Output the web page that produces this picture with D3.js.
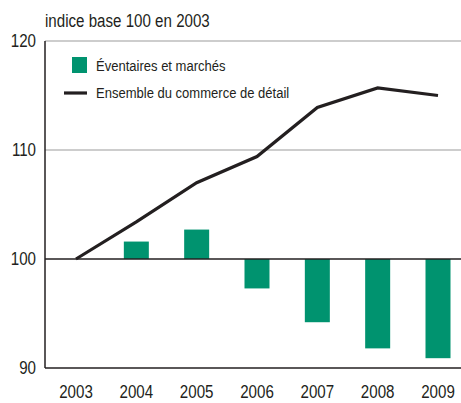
<!DOCTYPE html>
<html>
<head>
<meta charset="utf-8">
<script src="https://d3js.org/d3.v7.min.js"></script>
<style>
  body { margin: 0; background: #fff; }
  svg text { font-family: "Liberation Sans", Arial, sans-serif; fill: #231f20; }
</style>
</head>
<body>
<script>
// data
var years = ["2003", "2004", "2005", "2006", "2007", "2008", "2009"];
var eventaires = [100, 101.6, 102.7, 97.3, 94.2, 91.8, 90.9];
var ensemble = [100, 103.4, 107.0, 109.4, 113.9, 115.7, 115.0];
var yTicks = [90, 100, 110, 120];

var width = 461, height = 403;
var mLeft = 45, mTop = 41, mBottom = 368;
var green = "#00936f", dark = "#231f20";

var svg = d3.select("body").append("svg")
    .attr("width", width)
    .attr("height", height);

var x = d3.scalePoint().domain(years).range([76, 438]);
var y = d3.scaleLinear().domain([90, 120]).range([mBottom, mTop]);

// light gridlines
svg.selectAll("line.grid")
    .data([110, 120])
    .enter().append("line")
    .attr("x1", mLeft).attr("x2", width)
    .attr("y1", function(d) { return y(d); })
    .attr("y2", function(d) { return y(d); })
    .attr("stroke", "#bcbcbc")
    .attr("stroke-width", 1.3);

// bars, from 100
var barW = 25;
svg.selectAll("rect.bar")
    .data(eventaires)
    .enter().append("rect")
    .attr("x", function(d, i) { return x(years[i]) - barW / 2; })
    .attr("y", function(d) { return y(Math.max(d, 100)); })
    .attr("width", barW)
    .attr("height", function(d) { return Math.abs(y(d) - y(100)); })
    .attr("fill", green);

// base line at 100
svg.append("line")
    .attr("x1", mLeft).attr("x2", width)
    .attr("y1", y(100)).attr("y2", y(100))
    .attr("stroke", dark).attr("stroke-width", 1.3);

// axis lines
svg.append("line")
    .attr("x1", mLeft).attr("x2", width)
    .attr("y1", y(90)).attr("y2", y(90))
    .attr("stroke", dark).attr("stroke-width", 1.5);
svg.append("line")
    .attr("x1", mLeft).attr("x2", mLeft)
    .attr("y1", y(120)).attr("y2", y(90))
    .attr("stroke", dark).attr("stroke-width", 1.5);

// line series
var line = d3.line()
    .x(function(d, i) { return x(years[i]); })
    .y(function(d) { return y(d); });
svg.append("path")
    .datum(ensemble)
    .attr("d", line)
    .attr("fill", "none")
    .attr("stroke", dark)
    .attr("stroke-width", 3.2);

// y tick labels
svg.selectAll("text.ytick")
    .data(yTicks)
    .enter().append("text")
    .attr("class", "ytick")
    .attr("x", 36)
    .attr("y", function(d) { return y(d) + 6; })
    .attr("text-anchor", "end")
    .attr("font-size", 18)
    .text(function(d) { return d; });

// x tick labels
svg.selectAll("text.xtick")
    .data(years)
    .enter().append("text")
    .attr("class", "xtick")
    .attr("x", function(d) { return x(d); })
    .attr("y", 398)
    .attr("text-anchor", "middle")
    .attr("font-size", 18)
    .text(function(d) { return d; });

// title
svg.append("text")
    .attr("x", 45).attr("y", 27)
    .attr("font-size", 18)
    .text("indice base 100 en 2003");

// legend
svg.append("rect")
    .attr("x", 72).attr("y", 57)
    .attr("width", 15).attr("height", 16)
    .attr("fill", green);
svg.append("text")
    .attr("x", 96).attr("y", 71)
    .attr("font-size", 15.5)
    .text("Éventaires et marchés");
svg.append("line")
    .attr("x1", 64).attr("x2", 87)
    .attr("y1", 93).attr("y2", 93)
    .attr("stroke", dark).attr("stroke-width", 3.2);
svg.append("text")
    .attr("x", 96).attr("y", 98)
    .attr("font-size", 15.5)
    .text("Ensemble du commerce de détail");

// condensed look: squeeze every text horizontally
svg.selectAll("text").each(function() {
    var w = this.getComputedTextLength();
    d3.select(this)
        .attr("textLength", w * 0.84)
        .attr("lengthAdjust", "spacingAndGlyphs");
});
</script>
</body>
</html>
